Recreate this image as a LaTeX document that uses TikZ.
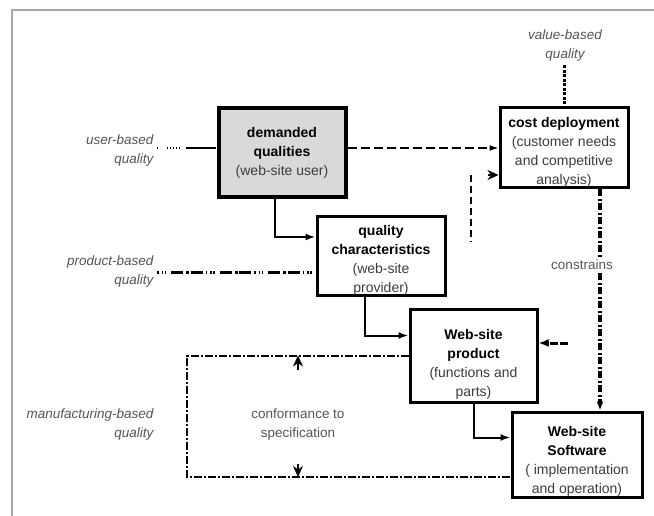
\documentclass[tikz,border=0pt]{standalone}
\usepackage{fontspec}
\setmainfont{Liberation Sans}
\usetikzlibrary{arrows.meta}

\definecolor{labelgray}{HTML}{555555}
\definecolor{notegray}{HTML}{3C3C3C}
\definecolor{shade}{HTML}{D9D9D9}
\definecolor{framegray}{HTML}{A8A8A8}

% box text, lowered by #1 inside the box
\newcommand{\boxtext}[2]{\raisebox{-#1}[0pt][0pt]{\begin{tabular}{@{}c@{}}#2\end{tabular}}}
\newcommand{\hd}[1]{\textcolor{black}{\bfseries #1}}

\tikzset{
box/.style={
draw,
line width=3pt,
inner sep=0pt,
text=notegray,
font=\fontsize{14}{19}\selectfont
},
side/.style={
align=right,
anchor=east,
text=labelgray,
font=\itshape\fontsize{13.5}{19}\selectfont
},
note/.style={
align=center,
text=labelgray,
font=\fontsize{13.5}{19}\selectfont
},
flow/.style={line width=2pt, -{Latex[length=10pt,width=7pt]}},
tip/.style={line width=1.5pt, -{Stealth[length=11pt,width=10pt,inset=3.5pt]}}
}

\begin{document}
\begin{tikzpicture}[x=1pt, y=-1pt]

\useasboundingbox (0,0) rectangle (654,516);
\draw[framegray, line width=1.5pt] (12,516) -- (12,10) -- (654,10);

% boxes
\node[box, fill=shade, line width=4pt, minimum width=127pt, minimum height=89pt]
(dq) at (282,152.5)
{\boxtext{4pt}{\hd{demanded}\\\hd{qualities}\\(web-site user)}};

\node[box, minimum width=128pt, minimum height=78pt] (qc) at (381,256)
{\boxtext{8pt}{\hd{quality}\\\hd{characteristics}\\(web-site\\provider)}};

\node[box, minimum width=128pt, minimum height=80pt] (cd) at (564,148)
{\boxtext{8pt}{\hd{cost deployment}\\(customer needs\\and competitive\\analysis)}};

\node[box, minimum width=127pt, minimum height=93pt] (pp) at (473.5,355.5)
{\boxtext{12.5pt}{\hd{Web-site}\\\hd{product}\\(functions and\\parts)}};

\node[box, minimum width=130pt, minimum height=85pt] (sw) at (577,454.5)
{\boxtext{10pt}{\hd{Web-site}\\\hd{Software}\\( implementation\\and operation)}};

% outside labels
\node[note] (vb) at (565,46) {\itshape value-based\\\itshape quality};
\node[side] (ub) at (157,151) {user-based\\quality};
\node[side] (pb) at (157,272) {product-based\\quality};
\node[side] (mb) at (157,425) {manufacturing-based\\quality};
\node[note] (cf) at (298,425) {conformance to\\specification};
\node[note] (cn) at (582,265) {constrains};

\coordinate (d1) at (471,175);
\coordinate (d2) at (471,242);
\coordinate (d3) at (488,175);
\coordinate (ps) at (568,343);
\coordinate (lp) at (187,477);
\coordinate (au) at (298,370);
\coordinate (ad) at (298,464);

% quality views
\draw[line width=1.3pt, dash pattern=on 1pt off 9pt on 1pt off 2pt on 1pt off 2pt on 1pt off 2pt on 1pt off 2pt on 1pt off 6pt on 30pt]
(ub.east |- cd.west) -- (dq.west |- cd.west);
\draw[line width=3pt, dash pattern=on 1.5pt off 3pt on 1.5pt off 1.5pt on 1.5pt off 5pt on 12pt off 3pt on 3pt off 1.5pt on 12pt off 3pt]
(pb.east) -- (pb.east -| qc.west);
\draw[line width=3pt, dash pattern=on 3pt off 1.5pt]
(vb.south -| cd.north) -- (cd.north);

% main flow
\draw[flow] ([xshift=-7pt]dq.south) |- ([yshift=19pt]qc.west);
\draw[flow] ([xshift=-16pt]qc.south) |- ([yshift=20pt]pp.west);
\draw[flow] (pp.south) |- ([yshift=17pt]sw.west);

% cost deployment
\draw[line width=1.3pt, dash pattern=on 9pt off 4pt, -{Latex[length=9pt,width=6pt]}]
(dq.east |- cd.west) -- (cd.west);
\draw[line width=2pt, dash pattern=on 7pt off 4pt] (d1) -- (d2);
\draw[tip] (d3) -- (d3 -| cd.west);
\draw[line width=3.5pt, dash pattern=on 7pt off 2.5pt on 2pt off 2.5pt]
([xshift=36pt]cd.south) -- ([xshift=36pt]cd.south |- cn.north);
\draw[line width=3.5pt, dash pattern=on 7pt off 2.5pt on 2pt off 2.5pt, -{Latex[length=9pt,width=7pt]}]
([xshift=36pt]cd.south |- cn.south) -- ([xshift=36pt]cd.south |- sw.north);
\draw[line width=3pt, dash pattern=on 8pt off 2pt, -{Latex[length=10pt,width=8pt]}]
(ps) -- (ps -| pp.east);

% conformance loop
\draw[line width=2pt, dash pattern=on 8pt off 2pt on 2pt off 2pt]
(pp.west) -| (lp) -- (lp -| sw.west);
\draw[tip] (au) -- (au |- pp.west);
\draw[tip] (ad) -- (ad |- lp);

\end{tikzpicture}
\end{document}
